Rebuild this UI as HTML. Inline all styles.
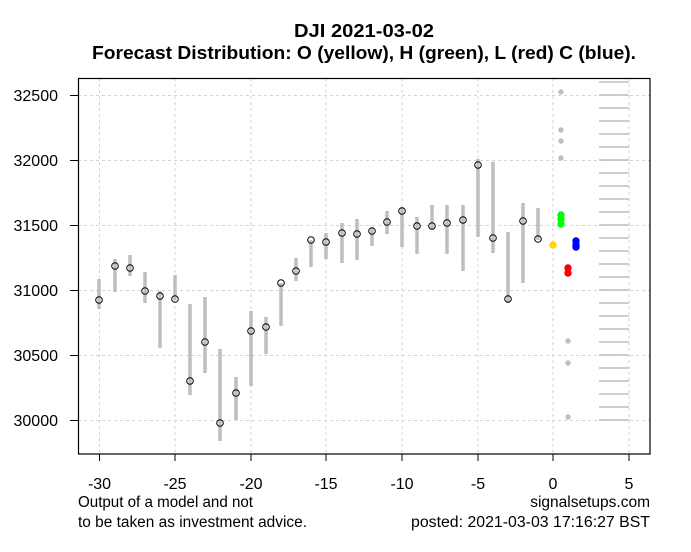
<!DOCTYPE html>
<html><head><meta charset="utf-8"><style>
html,body{margin:0;padding:0;background:#fff;}
svg{display:block;}
text{font-family:"Liberation Sans",sans-serif;fill:#000;}
</style></head><body>
<svg width="691" height="552" viewBox="0 0 691 552" xmlns="http://www.w3.org/2000/svg">
<rect width="691" height="552" fill="#fff"/>
<text x="364" y="37" font-size="18" font-weight="bold" text-anchor="middle" textLength="140" lengthAdjust="spacingAndGlyphs">DJI 2021-03-02</text>
<text x="92" y="59" font-size="18" font-weight="bold" textLength="544" lengthAdjust="spacingAndGlyphs">Forecast Distribution: O (yellow), H (green), L (red) C (blue).</text>
<g stroke="#d3d3d3" stroke-width="1" stroke-dasharray="3,3">
<line x1="99.5" y1="78" x2="99.5" y2="454"/><line x1="175" y1="78" x2="175" y2="454"/><line x1="251" y1="78" x2="251" y2="454"/><line x1="326" y1="78" x2="326" y2="454"/><line x1="402" y1="78" x2="402" y2="454"/><line x1="478" y1="78" x2="478" y2="454"/><line x1="553" y1="78" x2="553" y2="454"/><line x1="629" y1="78" x2="629" y2="454"/>
<line x1="78" y1="95.5" x2="650" y2="95.5"/><line x1="78" y1="160.5" x2="650" y2="160.5"/><line x1="78" y1="225.5" x2="650" y2="225.5"/><line x1="78" y1="290.5" x2="650" y2="290.5"/><line x1="78" y1="355.5" x2="650" y2="355.5"/><line x1="78" y1="420.5" x2="650" y2="420.5"/>
</g>
<g stroke="#bebebe" stroke-width="1.5">
<line x1="599" y1="82" x2="629" y2="82"/><line x1="599" y1="95" x2="629" y2="95"/><line x1="599" y1="108" x2="629" y2="108"/><line x1="599" y1="121" x2="629" y2="121"/><line x1="599" y1="134" x2="629" y2="134"/><line x1="599" y1="147" x2="629" y2="147"/><line x1="599" y1="160" x2="629" y2="160"/><line x1="599" y1="173" x2="629" y2="173"/><line x1="599" y1="186" x2="629" y2="186"/><line x1="599" y1="199" x2="629" y2="199"/><line x1="599" y1="212" x2="629" y2="212"/><line x1="599" y1="225" x2="629" y2="225"/><line x1="599" y1="238" x2="629" y2="238"/><line x1="599" y1="251" x2="629" y2="251"/><line x1="599" y1="264" x2="629" y2="264"/><line x1="599" y1="277" x2="629" y2="277"/><line x1="599" y1="290" x2="629" y2="290"/><line x1="599" y1="303" x2="629" y2="303"/><line x1="599" y1="316" x2="629" y2="316"/><line x1="599" y1="329" x2="629" y2="329"/><line x1="599" y1="342" x2="629" y2="342"/><line x1="599" y1="355" x2="629" y2="355"/><line x1="599" y1="368" x2="629" y2="368"/><line x1="599" y1="381" x2="629" y2="381"/><line x1="599" y1="394" x2="629" y2="394"/><line x1="599" y1="407" x2="629" y2="407"/><line x1="599" y1="420" x2="629" y2="420"/>
</g>
<g stroke="#bebebe" stroke-width="3.5">
<line x1="99" y1="279" x2="99" y2="309"/><line x1="115" y1="259" x2="115" y2="292"/><line x1="130" y1="255" x2="130" y2="276"/><line x1="145" y1="272" x2="145" y2="303"/><line x1="160" y1="291" x2="160" y2="348"/><line x1="175" y1="275" x2="175" y2="300"/><line x1="190" y1="304" x2="190" y2="395"/><line x1="205" y1="297" x2="205" y2="373"/><line x1="220" y1="349" x2="220" y2="441"/><line x1="236" y1="377" x2="236" y2="420"/><line x1="251" y1="311" x2="251" y2="386"/><line x1="266" y1="317" x2="266" y2="354"/><line x1="281" y1="283" x2="281" y2="326"/><line x1="296" y1="258" x2="296" y2="281"/><line x1="311" y1="240" x2="311" y2="267"/><line x1="326" y1="233" x2="326" y2="259"/><line x1="342" y1="223" x2="342" y2="263"/><line x1="357" y1="219" x2="357" y2="260"/><line x1="372" y1="228" x2="372" y2="246"/><line x1="387" y1="211" x2="387" y2="234"/><line x1="402" y1="207" x2="402" y2="247"/><line x1="417" y1="217" x2="417" y2="254"/><line x1="432" y1="205" x2="432" y2="230"/><line x1="447" y1="205" x2="447" y2="254"/><line x1="463" y1="205" x2="463" y2="271"/><line x1="478" y1="159" x2="478" y2="237"/><line x1="493" y1="162" x2="493" y2="253"/><line x1="508" y1="232" x2="508" y2="303"/><line x1="523" y1="203" x2="523" y2="283"/><line x1="538" y1="208" x2="538" y2="240"/>
</g>
<g fill="none" stroke="#000" stroke-width="1">
<circle cx="99" cy="300" r="3.3"/><circle cx="115" cy="266" r="3.3"/><circle cx="130" cy="268" r="3.3"/><circle cx="145" cy="291" r="3.3"/><circle cx="160" cy="296" r="3.3"/><circle cx="175" cy="299" r="3.3"/><circle cx="190" cy="381" r="3.3"/><circle cx="205" cy="342" r="3.3"/><circle cx="220" cy="423" r="3.3"/><circle cx="236" cy="393" r="3.3"/><circle cx="251" cy="331" r="3.3"/><circle cx="266" cy="327" r="3.3"/><circle cx="281" cy="283" r="3.3"/><circle cx="296" cy="271" r="3.3"/><circle cx="311" cy="240" r="3.3"/><circle cx="326" cy="242" r="3.3"/><circle cx="342" cy="233" r="3.3"/><circle cx="357" cy="234" r="3.3"/><circle cx="372" cy="231" r="3.3"/><circle cx="387" cy="222" r="3.3"/><circle cx="402" cy="211" r="3.3"/><circle cx="417" cy="226" r="3.3"/><circle cx="432" cy="226" r="3.3"/><circle cx="447" cy="223" r="3.3"/><circle cx="463" cy="220" r="3.3"/><circle cx="478" cy="165" r="3.3"/><circle cx="493" cy="238" r="3.3"/><circle cx="508" cy="299" r="3.3"/><circle cx="523" cy="221" r="3.3"/><circle cx="538" cy="239" r="3.3"/>
</g>
<g fill="#bebebe">
<circle cx="561" cy="92" r="2.7"/><circle cx="561" cy="130" r="2.7"/><circle cx="561" cy="141" r="2.7"/><circle cx="561" cy="158" r="2.7"/><circle cx="568" cy="341" r="2.7"/><circle cx="568" cy="363" r="2.7"/><circle cx="568" cy="417" r="2.7"/>
</g>
<circle cx="553" cy="245" r="3.7" fill="#ffd700"/>
<g fill="#00ff00"><circle cx="561" cy="215" r="3.7"/><circle cx="561" cy="219" r="3.7"/><circle cx="561" cy="224" r="3.7"/></g>
<g fill="#0000ff"><circle cx="576" cy="241" r="3.7"/><circle cx="576" cy="245" r="3.7"/><circle cx="576" cy="247" r="3.7"/></g>
<g fill="#ff0000"><circle cx="568" cy="268" r="3.7"/><circle cx="568" cy="273" r="3.7"/></g>
<rect x="78.5" y="78.5" width="571.5" height="375.5" fill="none" stroke="#000" stroke-width="1.2"/>
<g stroke="#000" stroke-width="1">
<line x1="99.5" y1="454" x2="99.5" y2="461"/><line x1="175" y1="454" x2="175" y2="461"/><line x1="251" y1="454" x2="251" y2="461"/><line x1="326" y1="454" x2="326" y2="461"/><line x1="402" y1="454" x2="402" y2="461"/><line x1="478" y1="454" x2="478" y2="461"/><line x1="553" y1="454" x2="553" y2="461"/><line x1="629" y1="454" x2="629" y2="461"/>
<line x1="70" y1="95.5" x2="78" y2="95.5"/><line x1="70" y1="160.5" x2="78" y2="160.5"/><line x1="70" y1="225.5" x2="78" y2="225.5"/><line x1="70" y1="290.5" x2="78" y2="290.5"/><line x1="70" y1="355.5" x2="78" y2="355.5"/><line x1="70" y1="420.5" x2="78" y2="420.5"/>
</g>
<g font-size="16" text-anchor="middle">
<text x="99.5" y="489">-30</text><text x="175" y="489">-25</text><text x="251" y="489">-20</text><text x="326" y="489">-15</text><text x="402" y="489">-10</text><text x="478" y="489">-5</text><text x="553" y="489">0</text><text x="629" y="489">5</text>
</g>
<g font-size="16" text-anchor="end">
<text x="58" y="101">32500</text><text x="58" y="166">32000</text><text x="58" y="231">31500</text><text x="58" y="296">31000</text><text x="58" y="361">30500</text><text x="58" y="426">30000</text>
</g>
<text x="78" y="507" font-size="15.5" textLength="175" lengthAdjust="spacingAndGlyphs">Output of a model and not</text>
<text x="78" y="527" font-size="15.5" textLength="229" lengthAdjust="spacingAndGlyphs">to be taken as investment advice.</text>
<text x="650" y="507" font-size="15.5" text-anchor="end">signalsetups.com</text>
<text x="411" y="527" font-size="15.5" textLength="239" lengthAdjust="spacingAndGlyphs">posted: 2021-03-03 17:16:27 BST</text>
</svg>
</body></html>
